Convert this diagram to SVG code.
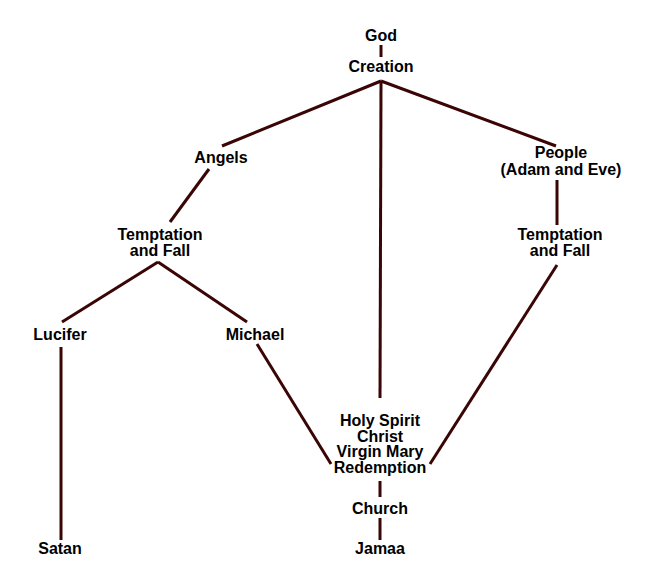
<svg xmlns="http://www.w3.org/2000/svg" width="658" height="578" viewBox="0 0 658 578">
<style>
text{font-family:"Liberation Sans",Arial,sans-serif;font-weight:bold;font-size:16px;fill:#000;text-anchor:middle}
.c line{stroke:#3a0505;stroke-width:3;stroke-linecap:butt}
</style>
<rect width="658" height="578" fill="#fff"/>
<g class="c" id="connectors">
<line x1="381" y1="45" x2="381" y2="57"/>
<line x1="381" y1="81" x2="222" y2="146"/>
<line x1="381" y1="81" x2="556" y2="146"/>
<line x1="381" y1="81" x2="380" y2="398"/>
<line x1="209" y1="169" x2="170" y2="222"/>
<line x1="158" y1="262" x2="62" y2="322"/>
<line x1="158" y1="262" x2="247" y2="322"/>
<line x1="61" y1="347" x2="61" y2="540"/>
<line x1="257" y1="344" x2="331" y2="464"/>
<line x1="557" y1="180" x2="557" y2="225"/>
<line x1="557" y1="265" x2="430" y2="464"/>
<line x1="380" y1="481" x2="380" y2="497"/>
<line x1="380" y1="518" x2="380" y2="540"/>
</g>
<g id="god"><text x="381" y="41">God</text></g>
<g id="creation"><text x="381" y="72">Creation</text></g>
<g id="angels"><text x="221" y="163">Angels</text></g>
<g id="people"><text x="561" y="158">People</text><text x="561" y="175">(Adam and Eve)</text></g>
<g id="temptation-left"><text x="160" y="240">Temptation</text><text x="160" y="256">and Fall</text></g>
<g id="temptation-right"><text x="560" y="240">Temptation</text><text x="560" y="256">and Fall</text></g>
<g id="lucifer"><text x="60" y="340">Lucifer</text></g>
<g id="michael"><text x="255" y="340">Michael</text></g>
<g id="redemption"><text x="380" y="426">Holy Spirit</text><text x="380" y="441.5">Christ</text><text x="380" y="457">Virgin Mary</text><text x="380" y="473">Redemption</text></g>
<g id="church"><text x="380" y="514">Church</text></g>
<g id="jamaa"><text x="380" y="554">Jamaa</text></g>
<g id="satan"><text x="60" y="554">Satan</text></g>
</svg>
